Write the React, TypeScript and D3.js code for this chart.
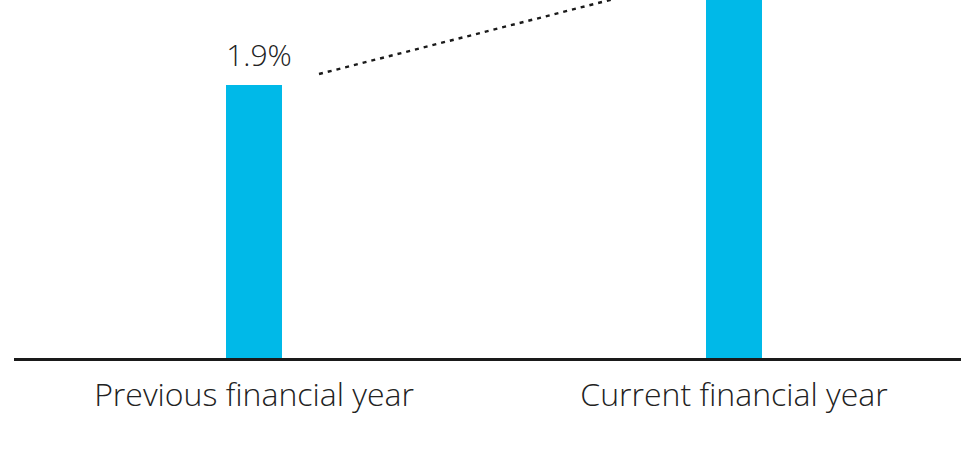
import React from "react";
import * as d3 from "d3";

const categories = ["Previous financial year", "Current financial year"];
const values = [1.9, 2.5];
const valueLabels = ["1.9%"];

const W = 961;
const H = 473;

export default function App() {
  const x = d3.scaleBand<string>().domain(categories).range([14, 974]).paddingInner(0).paddingOuter(0);
  const baseY = 358;
  const y = d3.scaleLinear().domain([0, 1.9]).range([baseY, 85]);
  const barW = 56;
  const cx = (c: string) => (x(c) as number) + x.bandwidth() / 2;

  const p0 = [cx(categories[0]) + 65, y(values[0]) - 11];
  const p1 = [cx(categories[1]) - 76, y(values[1]) - 11];
  const line = d3.line()([p0 as [number, number], p1 as [number, number]]) as string;

  const font = "'Open Sans', 'Noto Sans', sans-serif";

  return (
    <svg width={W} height={H} style={{ position: "absolute", left: 0, top: 0, background: "#fff" }}>
      {categories.map((c, i) => (
        <rect key={c} x={cx(c) - barW / 2} y={y(values[i])} width={barW} height={baseY - y(values[i])} fill="#00B9E8" />
      ))}
      <line x1={14} x2={W} y1={359.5} y2={359.5} stroke="#1a1a1a" strokeWidth={3} />
      <path d={line} fill="none" stroke="#1a1a1a" strokeWidth={2.4} strokeDasharray="4 5" />
      {valueLabels.map((t, i) => (
        <text key={"v" + t} x={cx(categories[i]) + 5} y={y(values[i]) - 19} textAnchor="middle" fontFamily={font} fontWeight={300} fontSize={30} fill="#222">
          {t}
        </text>
      ))}
      {categories.map((c) => (
        <text key={"l" + c} x={cx(c)} y={406} textAnchor="middle" fontFamily={font} fontWeight={300} fontSize={32} fill="#222">
          {c}
        </text>
      ))}
    </svg>
  );
}
